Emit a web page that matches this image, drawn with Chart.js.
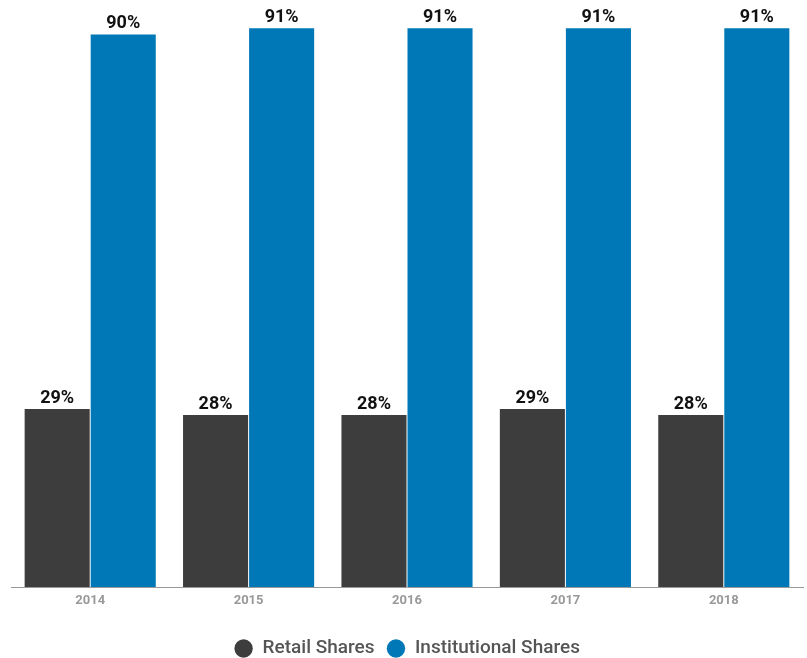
<!DOCTYPE html>
<html>
<head>
<meta charset="utf-8">
<script src="https://cdn.jsdelivr.net/npm/chart.js@4"></script>
<style>
  html, body { margin: 0; padding: 0; background: #fff; }
  #wrap { width: 807px; height: 658px; }
</style>
</head>
<body>
<div id="wrap"><canvas id="myChart"></canvas></div>
<script>
const years = ['2014', '2015', '2016', '2017', '2018'];
const retailShares = [29, 28, 28, 29, 28];
const institutionalShares = [90, 91, 91, 91, 91];

// draws "NN%" above each bar
const barLabels = {
    id: 'barLabels',
    afterDatasetsDraw(chart) {
        const ctx = chart.ctx;
        ctx.save();
        ctx.font = 'bold 18px Roboto';
        ctx.fillStyle = '#111';
        ctx.textAlign = 'center';
        ctx.textBaseline = 'alphabetic';
        chart.data.datasets.forEach((ds, i) => {
            chart.getDatasetMeta(i).data.forEach((bar, j) => {
                ctx.fillText(ds.data[j] + '%', bar.x, bar.y - 6);
            });
        });
        ctx.restore();
    }
};

// pull the legend down a bit
const legendShift = {
    id: 'legendShift',
    beforeInit(chart) {
        const fit = chart.legend.fit;
        chart.legend.fit = function () {
            fit.bind(chart.legend)();
            this.height -= 10;
        };
    }
};

const config = {
    type: 'bar',
    data: {
        labels: years,
        datasets: [
            {
                label: 'Retail Shares',
                backgroundColor: '#3d3d3d',
                data: retailShares
            },
            {
                label: 'Institutional Shares',
                backgroundColor: '#0077b6',
                data: institutionalShares
            }
        ]
    },
    options: {
        responsive: true,
        maintainAspectRatio: false,
        animation: false,
        categoryPercentage: 0.834,
        barPercentage: 0.985,
        layout: { padding: { left: 11, right: 4, top: 0, bottom: 0 } },
        plugins: {
            legend: {
                position: 'bottom',
                labels: {
                    usePointStyle: true,
                    pointStyle: 'circle',
                    boxWidth: 19,
                    boxHeight: 13,
                    padding: 12,
                    color: '#555',
                    font: { family: 'Roboto', size: 19, weight: '500' }
                }
            },
            tooltip: { enabled: false }
        },
        scales: {
            x: {
                grid: { display: false, drawTicks: false },
                border: { display: true, color: '#999', width: 1 },
                ticks: {
                    color: '#999',
                    padding: 6,
                    font: { family: 'Roboto', size: 13, weight: 'bold' }
                },
                afterFit(scale) { scale.height = 40; }
            },
            y: {
                display: false,
                min: 0,
                max: 95.6
            }
        }
    },
    plugins: [barLabels, legendShift]
};

var myChart = new Chart(document.getElementById('myChart'), config);
</script>
</body>
</html>
